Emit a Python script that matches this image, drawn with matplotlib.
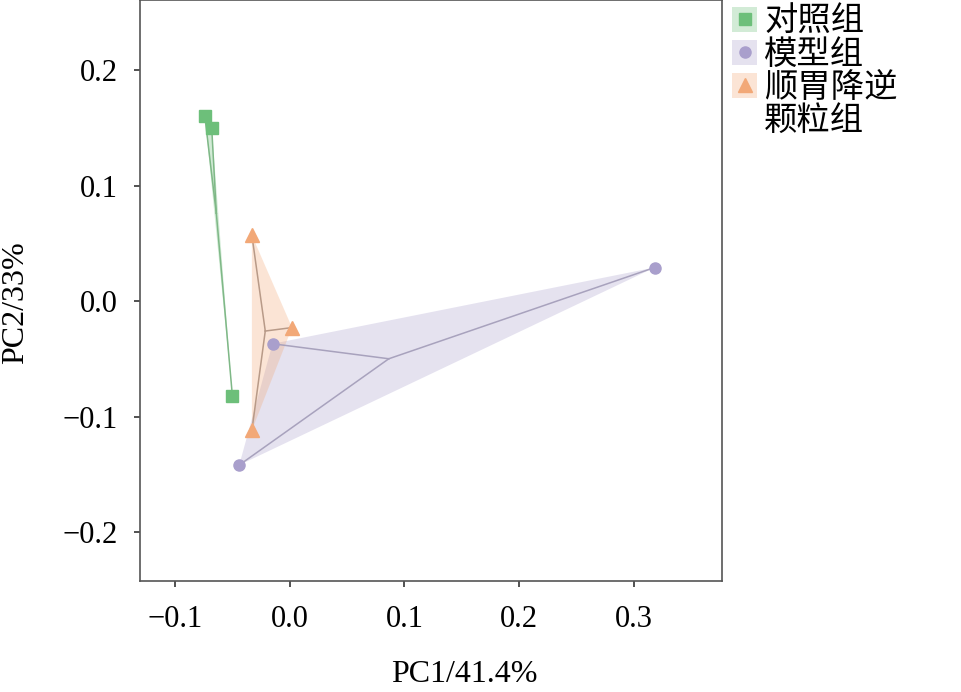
import matplotlib
matplotlib.use("Agg")
import matplotlib.pyplot as plt
from matplotlib.patches import Patch, Polygon
from matplotlib.lines import Line2D
from matplotlib.legend_handler import HandlerTuple
import numpy as np

groups = ["对照组", "模型组", "顺胃降逆", "颗粒组"]
pc1_control = [-0.074, -0.068, -0.050]
pc2_control = [0.160, 0.150, -0.082]
pc1_model = [-0.015, -0.044, 0.318]
pc2_model = [-0.037, -0.142, 0.029]
pc1_swjn = [-0.033, 0.002, -0.033]
pc2_swjn = [0.057, -0.023, -0.112]

colors = ["#6dbf7a", "#a99fcc", "#f2a877"]
line_colors = ["#7fb887", "#a8a2bd", "#b89a88"]
markers = ["s", "o", "^"]

plt.rcParams['font.family'] = ['Liberation Serif', 'Noto Sans CJK SC']

fig = plt.figure(figsize=(9.62, 6.92), dpi=100)
ax = fig.add_axes([140/962, 1 - 581/692, 582/962, 581/692])

data = [(pc1_control, pc2_control), (pc1_model, pc2_model), (pc1_swjn, pc2_swjn)]
handles = []
for (xs, ys), c, lc, m in zip(data, colors, line_colors, markers):
    xs = np.array(xs); ys = np.array(ys)
    pts = np.column_stack([xs, ys])
    ax.add_patch(Polygon(pts, closed=True, facecolor=c, alpha=0.3, edgecolor='none', zorder=1))
    cx, cy = xs.mean(), ys.mean()
    for x, y in zip(xs, ys):
        ax.plot([cx, x], [cy, y], color=lc, lw=1.1, zorder=2)
    ms = 10 if m == "^" else 8
    ax.plot(xs, ys, linestyle='none', marker=m, color=c, markersize=ms, zorder=3)
    handles.append((Patch(facecolor=c, alpha=0.3, edgecolor='none'),
                    Line2D([], [], linestyle='none', marker=m, color=c, markersize=ms)))
handles.append(Patch(facecolor='none', edgecolor='none'))

ax.set_xlim(-0.1305, 0.3767)
ax.set_ylim(-0.2424, 0.2606)
ax.set_xticks([-0.1, 0.0, 0.1, 0.2, 0.3])
ax.set_yticks([-0.2, -0.1, 0.0, 0.1, 0.2])
ax.set_xticklabels(["\u22120.1", "0.0", "0.1", "0.2", "0.3"])
ax.set_yticklabels(["\u22120.2", "\u22120.1", "0.0", "0.1", "0.2"])
ax.tick_params(labelsize=22, length=4, width=1.2, color='#333333', direction='out')
ax.tick_params(axis='x', pad=13)
ax.tick_params(axis='y', pad=12)
for s in ax.spines.values():
    s.set_color('#555555')
    s.set_linewidth(1.2)
ax.set_xlabel("PC1/41.4%", fontsize=23)
ax.set_ylabel("PC2/33%", fontsize=23)
ax.xaxis.set_label_coords((464 - 140) / 582, -(674 - 581) / 581, transform=ax.transAxes)
ax.yaxis.set_label_coords(-(140 - 16) / 582, (581 - 303) / 581, transform=ax.transAxes)
ax.xaxis.label.set_va('center')
ax.yaxis.label.set_va('center')

leg = fig.legend(handles, groups, handler_map={tuple: HandlerTuple(ndivide=1)},
                 loc='upper left', bbox_to_anchor=(709/962, 1 + 19/692), frameon=False,
                 prop={'family': ['Noto Sans CJK SC'], 'size': 24},
                 handlelength=0.75, handleheight=0.75, handletextpad=0.2,
                 labelspacing=-0.06, borderpad=0.2)

fig.savefig("out.png", dpi=100)
